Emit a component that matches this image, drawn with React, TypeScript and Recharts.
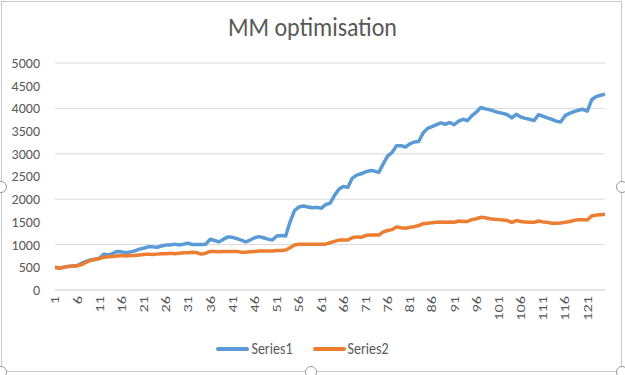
import React from 'react';
import { LineChart, Line, XAxis, YAxis, CartesianGrid, Legend } from 'recharts';

// x categories are just the run index 1..125
const categories: number[] = Array.from({ length: 125 }, (_, i) => i + 1);

const series1: number[] = [
  500, 480, 500, 520, 530, 540, 590, 630, 660, 680,
  700, 790, 770, 800, 850, 840, 820, 840, 860, 900,
  920, 950, 950, 940, 970, 990, 990, 1010, 990, 1010,
  1030, 1000, 1000, 1000, 1010, 1120, 1090, 1060, 1120, 1170,
  1160, 1130, 1100, 1060, 1100, 1150, 1175, 1150, 1120, 1100,
  1190, 1200, 1190, 1500, 1750, 1830, 1850, 1830, 1810, 1820,
  1800, 1880, 1910, 2080, 2220, 2280, 2260, 2460, 2530, 2560,
  2600, 2630, 2620, 2590, 2780, 2950, 3030, 3180, 3180, 3150,
  3220, 3260, 3270, 3460, 3560, 3600, 3640, 3680, 3650, 3690,
  3640, 3720, 3760, 3730, 3840, 3920, 4020, 3990, 3970, 3940,
  3910, 3890, 3860, 3790, 3870, 3810, 3780, 3760, 3730, 3860,
  3830, 3790, 3760, 3720, 3700, 3840, 3890, 3930, 3960, 3980,
  3940, 4190, 4260, 4290, 4310,
];

const series2: number[] = [
  500, 480, 500, 520, 530, 530, 560, 610, 650, 670,
  690, 720, 730, 740, 750, 760, 750, 760, 760, 770,
  780, 790, 780, 790, 800, 800, 810, 800, 810, 820,
  820, 830, 820, 790, 810, 850, 850, 840, 850, 850,
  850, 850, 830, 830, 840, 850, 860, 860, 860, 860,
  870, 870, 880, 930, 990, 1010, 1010, 1010, 1010, 1010,
  1010, 1010, 1040, 1070, 1100, 1100, 1100, 1150, 1170, 1160,
  1200, 1210, 1210, 1210, 1280, 1310, 1330, 1390, 1370, 1360,
  1380, 1395, 1420, 1460, 1470, 1480, 1490, 1500, 1490, 1500,
  1490, 1520, 1510, 1510, 1550, 1570, 1600, 1590, 1570, 1560,
  1550, 1540, 1530, 1490, 1530, 1510, 1500, 1490, 1490, 1520,
  1500, 1490, 1470, 1470, 1475, 1490, 1510, 1530, 1550, 1550,
  1540, 1630, 1650, 1660, 1670,
];

const yTicks: number[] = [0, 500, 1000, 1500, 2000, 2500, 3000, 3500, 4000, 4500, 5000];

const seriesNames = ['Series1', 'Series2'];
const seriesColors = ['#5B9BD5', '#ED7D31'];

const chartData = categories.map((c, i) => ({
  name: String(c),
  Series1: series1[i],
  Series2: series2[i],
}));

const FONT = 'Calibri, Carlito, Lato, "Noto Sans", sans-serif';
const TEXT = '#595959';

const XTick = (props: any) => {
  const { x, y, payload } = props;
  return (
    <text
      transform={`translate(${x},${y}) rotate(-90) scale(1.25,1)`}
      textAnchor="end"
      dominantBaseline="central"
      fill={TEXT}
      fontSize={13}
      fontFamily={FONT}
    >
      {payload.value}
    </text>
  );
};

const LegendBox = () => (
  <div style={{ display: 'flex', justifyContent: 'center', alignItems: 'center', gap: 20, fontFamily: FONT, fontSize: 14, color: TEXT }}>
    {seriesNames.map((n, i) => (
      <div key={n} style={{ display: 'flex', alignItems: 'center' }}>
        <span style={{ display: 'inline-block', width: 33, height: 4, borderRadius: 2, background: seriesColors[i], marginRight: 2 }} />
        <span style={{ display: 'inline-block', transform: 'scaleY(1.15)' }}>{n}</span>
      </div>
    ))}
  </div>
);

const handle = (left: number, top: number) => (
  <div style={{
    position: 'absolute', left: left - 6, top: top - 6, width: 10, height: 10,
    borderRadius: '50%', border: '1px solid #9a9a9a', background: '#fff',
  }} />
);

export default function App() {
  return (
    <div style={{ position: 'absolute', left: 0, top: 0, width: 625, height: 375, background: '#fff', overflow: 'hidden' }}>
      <div style={{ position: 'absolute', left: 1, top: 1, width: 619, height: 369, border: '1px solid #c8c8c8' }} />
      <div style={{
        position: 'absolute', top: 12, left: 0, width: 625, textAlign: 'center',
        fontFamily: FONT, fontSize: 24, color: TEXT, transform: 'scaleY(1.1)',
      }}>
        MM optimisation
      </div>
      <LineChart
        width={625}
        height={375}
        data={chartData}
        margin={{ top: 63, right: 20, left: 0, bottom: 15 }}
        style={{ position: 'absolute', left: 0, top: 0 }}
      >
        <CartesianGrid vertical={false} stroke="#d9d9d9" />
        <XAxis
          dataKey="name"
          interval={4}
          tick={<XTick />}
          tickLine={false}
          tickSize={0}
          tickMargin={6}
          height={50}
          axisLine={{ stroke: '#d9d9d9' }}
        />
        <YAxis
          domain={[0, 5000]}
          ticks={yTicks}
          width={55}
          tickLine={false}
          tickSize={0}
          tickMargin={15}
          axisLine={false}
          tick={{ fill: TEXT, fontSize: 14, fontFamily: FONT }}
        />
        <Legend verticalAlign="bottom" height={20} content={<LegendBox />} />
        <Line type="linear" dataKey="Series1" stroke={seriesColors[0]} strokeWidth={3.5} dot={false} isAnimationActive={false} strokeLinejoin="round" />
        <Line type="linear" dataKey="Series2" stroke={seriesColors[1]} strokeWidth={3.5} dot={false} isAnimationActive={false} strokeLinejoin="round" />
      </LineChart>
      {handle(1, 187)}
      {handle(622, 187)}
      {handle(311, 372)}
      {handle(1, 372)}
      {handle(622, 372)}
    </div>
  );
}
